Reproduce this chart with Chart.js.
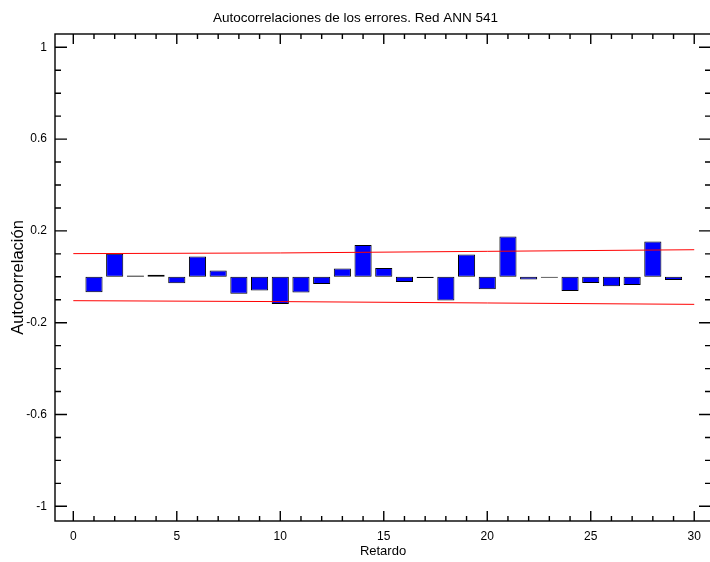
<!DOCTYPE html>
<html>
<head>
<meta charset="utf-8">
<script src="https://cdn.jsdelivr.net/npm/chart.js@4/dist/chart.umd.min.js"></script>
<style>
  html, body { margin: 0; padding: 0; background: #fff; overflow: hidden; }
  #wrap { position: relative; width: 716px; height: 562px; }
</style>
</head>
<body>
<div id="wrap"><canvas id="acf" width="716" height="562"></canvas></div>
<script>
// Residual autocorrelations by lag
const lags = [1, 2, 3, 4, 5, 6, 7, 8, 9, 10, 11, 12, 13, 14, 15, 16, 17, 18, 19, 20, 21, 22, 23, 24, 25, 26, 27, 28, 29];
const acfValues = [-0.067, 0.100, 0.006, 0.009, -0.028, 0.089, 0.028, -0.074, -0.060, -0.119,
                   -0.068, -0.031, 0.036, 0.139, 0.038, -0.023, -0.005, -0.103, 0.097, -0.054,
                   0.176, -0.012, -0.004, -0.062, -0.027, -0.041, -0.036, 0.154, -0.014];

// Confidence band limits
const bandLags = [0, 10, 20, 30];
const upperBand = [0.101, 0.104, 0.111, 0.118];
const lowerBand = [-0.104, -0.108, -0.114, -0.120];

// Axis tick labels
const xTickValues = [0, 5, 10, 15, 20, 25, 30];
const yTickValues = [-1, -0.6, -0.2, 0.2, 0.6, 1];

const toPoints = (xs, ys) => xs.map((x, i) => ({ x: x, y: ys[i] }));

// Frame with inward major/minor ticks on all four sides
const framePlugin = {
  id: 'frameTicks',
  afterDatasetsDraw(chart) {
    const { ctx, chartArea: a, scales: { x, y } } = chart;
    ctx.save();
    ctx.strokeStyle = '#000';
    ctx.lineWidth = 1.4;
    ctx.strokeRect(a.left, a.top, a.right - a.left, a.bottom - a.top);
    ctx.beginPath();
    for (let v = 0; v <= 30; v++) {
      const px = x.getPixelForValue(v);
      const len = v % 5 === 0 ? 10 : 5;
      ctx.moveTo(px, a.bottom); ctx.lineTo(px, a.bottom - len);
      ctx.moveTo(px, a.top); ctx.lineTo(px, a.top + len);
    }
    for (let k = -10; k <= 10; k++) {
      const py = y.getPixelForValue(k / 10);
      const major = (k + 10) % 4 === 0;
      const len = major ? 12 : 6;
      ctx.moveTo(a.left, py); ctx.lineTo(a.left + len, py);
      ctx.moveTo(a.right, py); ctx.lineTo(a.right - len, py);
    }
    ctx.stroke();
    ctx.restore();
  }
};

const family = "'Liberation Sans', Arial, sans-serif";
const font12 = { family: family, size: 12 };
const font13 = { family: family, size: 13 };

new Chart(document.getElementById('acf'), {
  type: 'bar',
  data: {
    datasets: [
      {
        type: 'line',
        data: toPoints(bandLags, upperBand),
        borderColor: '#ff0000',
        borderWidth: 1,
        pointRadius: 0,
        order: 0
      },
      {
        type: 'line',
        data: toPoints(bandLags, lowerBand),
        borderColor: '#ff0000',
        borderWidth: 1,
        pointRadius: 0,
        order: 0
      },
      {
        type: 'bar',
        data: toPoints(lags, acfValues),
        backgroundColor: '#0000ff',
        borderColor: '#000',
        borderWidth: 1,
        borderSkipped: false,
        barPercentage: 0.9,
        categoryPercentage: 0.92,
        order: 1
      }
    ]
  },
  options: {
    responsive: false,
    devicePixelRatio: 1,
    animation: false,
    layout: { padding: { left: 0, right: 5, top: 0, bottom: 0 } },
    plugins: {
      legend: { display: false },
      tooltip: { enabled: false },
      title: {
        display: true,
        text: 'Autocorrelaciones de los errores. Red ANN 541',
        color: '#000',
        font: { family: family, size: 13.5, weight: 'normal', lineHeight: 1.2 },
        padding: { top: 10, bottom: 7.8 }
      }
    },
    scales: {
      x: {
        type: 'linear',
        min: -0.884,
        max: 30.81,
        offset: false,
        grid: { display: false, drawTicks: false, offset: false },
        border: { display: false },
        afterBuildTicks(scale) { scale.ticks = xTickValues.map(v => ({ value: v })); },
        afterFit(scale) { scale.height = 41; },
        ticks: { color: '#000', font: font12, padding: 8, maxRotation: 0, autoSkip: false },
        title: { display: true, text: 'Retardo', color: '#000', font: font13, padding: { top: 0, bottom: 2.5 } }
      },
      y: {
        type: 'linear',
        min: -1.064,
        max: 1.058,
        grid: { display: false, drawTicks: false },
        border: { display: false },
        afterBuildTicks(scale) { scale.ticks = yTickValues.map(v => ({ value: v })); },
        afterFit(scale) { scale.width = 55; },
        ticks: {
          color: '#000', font: font12, padding: 8, autoSkip: false,
          callback: v => String(Math.round(v * 10) / 10)
        },
        title: { display: true, text: 'Autocorrelación', color: '#000', font: { family: family, size: 16.5 }, padding: { top: 9, bottom: 0 } }
      }
    }
  },
  plugins: [framePlugin]
});
</script>
</body>
</html>
